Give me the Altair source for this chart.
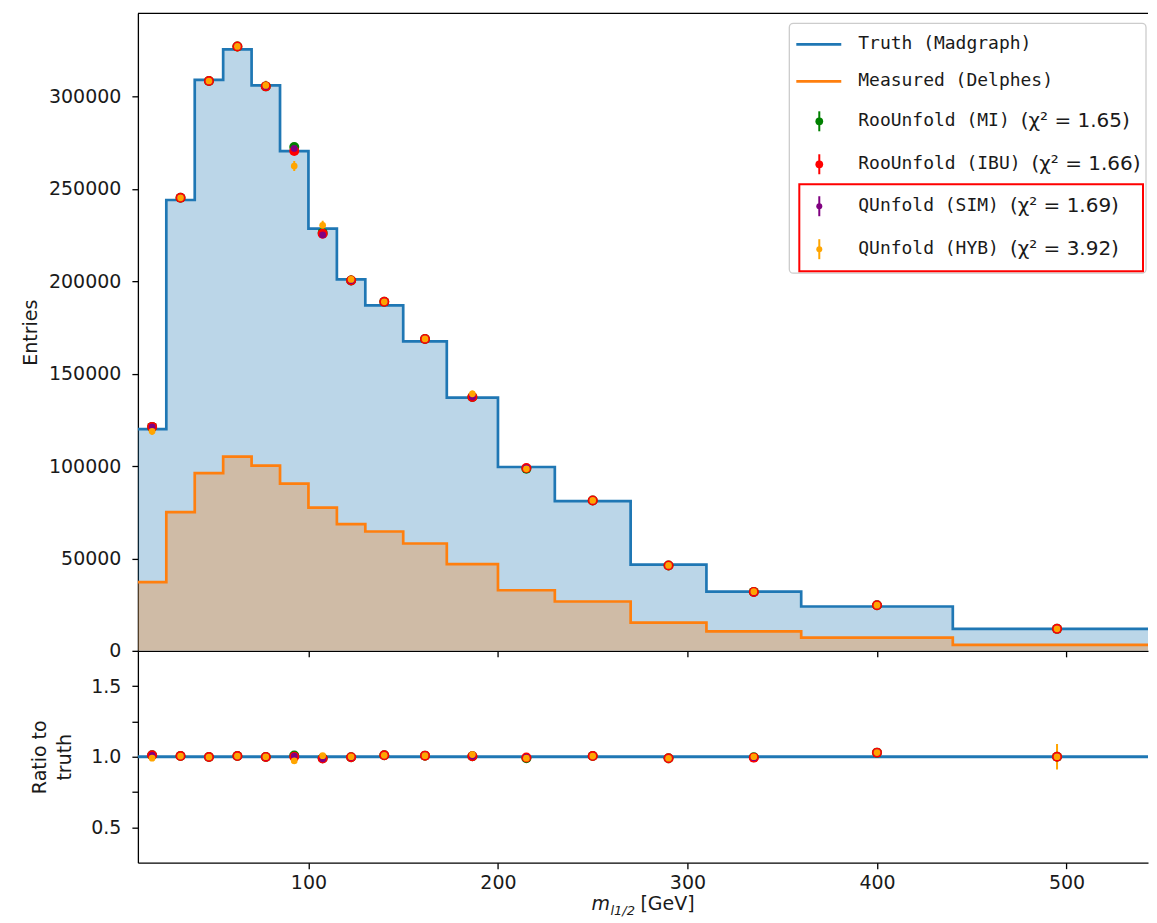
import altair as alt
import pandas as pd

# ---------------- data ----------------
edges = [10, 25, 40, 55, 70, 85, 100, 115, 130, 150, 173, 200, 230, 270, 310, 360, 440, 550]
truth = [120000, 244000, 309000, 325500, 306000, 270500, 228500, 201000, 187000,
         167500, 137000, 99500, 81000, 46700, 32000, 24000, 11900]
measured = [37200, 75100, 96200, 105100, 100200, 90500, 77500, 68600, 64600,
            58100, 46900, 32800, 26700, 15300, 10500, 7200, 3200]

mi = [121200, 245200, 308400, 327100, 305500, 272700, 226200, 200400, 188900,
      168800, 137400, 98500, 81400, 46200, 31900, 24700, 11900]
ibu = [121200, 245200, 308400, 327100, 305500, 270500, 225800, 200400, 188900,
       168800, 137400, 99000, 81400, 46200, 31800, 24700, 11900]
sim = [121200, 245200, 308400, 327100, 305500, 271900, 225100, 200400, 188900,
       168800, 137400, 99000, 81400, 46200, 31800, 24700, 11900]
hyb = [118800, 245200, 308400, 327100, 306000, 262400, 230300, 201000, 188900,
       168800, 139100, 98500, 81400, 46200, 32000, 24700, 11900]

mi_err = [900, 1300, 1500, 1600, 1500, 1400, 1300, 1200, 1100, 1000, 900, 800, 700, 550, 450, 400, 300]
ibu_err = [900, 1300, 1500, 1600, 1500, 1400, 1300, 1200, 1100, 1000, 900, 800, 700, 550, 450, 400, 300]
sim_err = [1100, 1500, 1700, 1800, 1700, 1600, 1500, 1400, 1300, 1200, 1000, 900, 800, 600, 500, 450, 350]
hyb_err = [1800, 2200, 2600, 2700, 2600, 2700, 2500, 2300, 2200, 2000, 1800, 1500, 1300, 1000, 800, 700, 1080]

series_names = ["MI", "IBU", "SIM", "HYB"]
series_colors = ["green", "red", "purple", "orange"]
series_sizes = [100, 100, 45, 45]
series_values = [mi, ibu, sim, hyb]
series_errors = [mi_err, ibu_err, sim_err, hyb_err]

legend_labels = ["Truth (Madgraph)", "Measured (Delphes)", "RooUnfold (MI)",
                 "RooUnfold (IBU)", "QUnfold (SIM)", "QUnfold (HYB)"]
legend_chi2 = ["", "", "(χ² = 1.65)", "(χ² = 1.66)", "(χ² = 1.69)", "(χ² = 3.92)"]
legend_colors = ["#1f77b4", "#ff7f0e", "green", "red", "purple", "orange"]
legend_kinds = ["line", "line", "err", "err", "err", "err"]
legend_sizes = [0, 0, 60, 60, 36, 36]

x_ticks = [100, 200, 300, 400, 500]
y_ticks = [0, 50000, 100000, 150000, 200000, 250000, 300000]
ratio_ticks = [0.5, 0.75, 1.0, 1.25, 1.5]

# ---------------- tables ----------------
centers = [(a + b) / 2 for a, b in zip(edges[:-1], edges[1:])]

step_df = pd.DataFrame({
    "x": edges,
    "truth": truth + [truth[-1]],
    "measured": measured + [measured[-1]],
})
step_df["one"] = 1.0

rows = []
for name, color, size, vals, errs in zip(series_names, series_colors, series_sizes,
                                         series_values, series_errors):
    for c, t, v, e in zip(centers, truth, vals, errs):
        rows.append(dict(series=name, color=color, size=size, x=c, y=v,
                         lo=v - e, hi=v + e, r=v / t, rlo=(v - e) / t, rhi=(v + e) / t))
pts = pd.DataFrame(rows)

W, HT, HB = 1011, 638, 212
FONT = "DejaVu Sans"
MONO = "DejaVu Sans Mono"
BLUE, ORANGE = "#1f77b4", "#ff7f0e"
TXT = "#1a1a1a"

# legend table (pixel layout inside the top panel)
leg_y = [31, 68, 108, 151, 193, 236]
leg = pd.DataFrame({"label": legend_labels, "chi": legend_chi2, "color": legend_colors,
                    "kind": legend_kinds, "py": leg_y, "size": legend_sizes})
leg["plo"] = leg["py"] - 10
leg["phi"] = leg["py"] + 10
leg["cx"] = 721 + (leg["label"].str.len() + 1) * 10.84

xs = alt.Scale(domain=[10, 543], nice=False, zero=False)
ys = alt.Scale(domain=[0, 345000], nice=False, zero=True)
rs = alt.Scale(domain=[0.25, 1.75], nice=False, zero=False)

common = dict(domainColor="black", tickColor="black", domainWidth=1.3, tickWidth=1.3,
              labelFont=FONT, labelFontSize=19, labelColor=TXT, titleFont=FONT,
              titleFontSize=19, titleFontWeight="normal", titleColor=TXT, grid=False)

x_top_axis = alt.Axis(values=x_ticks, labels=False, tickSize=6, title=None, **common)
y_top_axis = alt.Axis(values=y_ticks, format="d", tickSize=6, labelPadding=11,
                      title="Entries", titlePadding=8, **common)
x_bot_axis = alt.Axis(values=x_ticks, format="d", tickSize=6, labelPadding=5,
                      title=None, **common)
y_bot_axis = alt.Axis(values=ratio_ticks, tickSize=6, labelPadding=11,
                      labelExpr="datum.value == 0.75 || datum.value == 1.25 ? '' : format(datum.value, '.1f')",
                      title=["Ratio to", "truth"], titlePadding=16, titleLineHeight=25, **common)


def XT(f):
    return alt.X(f, scale=xs, axis=x_top_axis)


def YT(f):
    return alt.Y(f, scale=ys, axis=y_top_axis)


def XB(f):
    return alt.X(f, scale=xs, axis=x_bot_axis)


def YB(f):
    return alt.Y(f, scale=rs, axis=y_bot_axis)


col = alt.Color("color:N", scale=None, legend=None)

# ---------------- top panel ----------------
area_t = alt.Chart(step_df).mark_area(interpolate="step-after", color=BLUE, opacity=0.3,
                                      clip=True).encode(x=XT("x:Q"), y=YT("truth:Q"))
area_m = alt.Chart(step_df).mark_area(interpolate="step-after", color=ORANGE, opacity=0.3,
                                      clip=True).encode(x=XT("x:Q"), y=YT("measured:Q"))
line_t = alt.Chart(step_df).mark_line(interpolate="step-after", color=BLUE, strokeWidth=2.7,
                                      clip=True).encode(x=XT("x:Q"), y=YT("truth:Q"))
line_m = alt.Chart(step_df).mark_line(interpolate="step-after", color=ORANGE, strokeWidth=2.7,
                                      clip=True).encode(x=XT("x:Q"), y=YT("measured:Q"))
err_t = alt.Chart(pts).mark_rule(strokeWidth=2, clip=True).encode(
    x=XT("x:Q"), y=YT("lo:Q"), y2="hi:Q", color=col)
dot_t = alt.Chart(pts).mark_circle(opacity=1, clip=True).encode(
    x=XT("x:Q"), y=YT("y:Q"), color=col, size=alt.Size("size:Q", scale=None, legend=None))

top_spine = alt.Chart().mark_rule(color="black", strokeWidth=1.3).encode(
    x=alt.value(0), x2=alt.value(W), y=alt.value(0))

# legend
PY = alt.Y("py:Q", scale=None, axis=None)
leg_box = alt.Chart().mark_rect(fill="white", fillOpacity=0.85, stroke="#cccccc",
                                strokeWidth=1.3, cornerRadius=4).encode(
    x=alt.value(652), x2=alt.value(1009), y=alt.value(10), y2=alt.value(260))
red_box = alt.Chart().mark_rect(fill="white", fillOpacity=0, stroke="red",
                                strokeWidth=2).encode(
    x=alt.value(662), x2=alt.value(1006), y=alt.value(171), y2=alt.value(258))
leg_line = alt.Chart(leg).transform_filter("datum.kind == 'line'").mark_rule(
    strokeWidth=2.7).encode(x=alt.value(659), x2=alt.value(704), y=PY, color=col)
leg_err = alt.Chart(leg).transform_filter("datum.kind == 'err'").mark_rule(
    strokeWidth=2).encode(x=alt.value(682), y=alt.Y("plo:Q", scale=None, axis=None),
                          y2="phi:Q", color=col)
leg_dot = alt.Chart(leg).transform_filter("datum.kind == 'err'").mark_circle(
    opacity=1).encode(x=alt.value(682), y=PY, color=col,
                      size=alt.Size("size:Q", scale=None, legend=None))
leg_txt = alt.Chart(leg).mark_text(font=MONO, fontSize=18, align="left",
                                   baseline="middle", color=TXT).encode(
    x=alt.value(721), y=PY, text="label:N")
leg_chi = alt.Chart(leg).transform_filter("datum.chi != ''").mark_text(
    font=FONT, fontSize=20, align="left", baseline="middle", color=TXT).encode(
    x=alt.X("cx:Q", scale=None, axis=None), y=PY, text="chi:N")

top = alt.layer(area_t, area_m, line_t, line_m, err_t, dot_t, top_spine,
                leg_box, red_box, leg_line, leg_err, leg_dot, leg_txt, leg_chi
                ).properties(width=W, height=HT)

# ---------------- ratio panel ----------------
line_r = alt.Chart(step_df).mark_line(interpolate="step-after", color=BLUE, strokeWidth=2.9,
                                      clip=True).encode(x=XB("x:Q"), y=YB("one:Q"))
err_r = alt.Chart(pts).mark_rule(strokeWidth=2, clip=True).encode(
    x=XB("x:Q"), y=YB("rlo:Q"), y2="rhi:Q", color=col)
dot_r = alt.Chart(pts).mark_circle(opacity=1, clip=True).encode(
    x=XB("x:Q"), y=YB("r:Q"), color=col, size=alt.Size("size:Q", scale=None, legend=None))

xt_m = alt.Chart().mark_text(font=FONT, fontSize=19, fontStyle="italic", align="left",
                             baseline="alphabetic", color=TXT).encode(
    x=alt.value(454), y=alt.value(259), text=alt.value("m"))
xt_sub = alt.Chart().mark_text(font=FONT, fontSize=13, fontStyle="italic", align="left",
                               baseline="alphabetic", color=TXT).encode(
    x=alt.value(473), y=alt.value(264), text=alt.value("l1/2"))
xt_gev = alt.Chart().mark_text(font=FONT, fontSize=19, align="left",
                               baseline="alphabetic", color=TXT).encode(
    x=alt.value(503), y=alt.value(259), text=alt.value("[GeV]"))

bottom = alt.layer(line_r, err_r, dot_r, xt_m, xt_sub, xt_gev).properties(width=W, height=HB)

chart = alt.vconcat(top, bottom, spacing=0, bounds="flush").properties(
    padding={"left": 13, "top": 4, "right": 0, "bottom": 0}
).configure_view(stroke=None)

chart.save("out.html", embed_options={"renderer": "svg", "actions": False})
